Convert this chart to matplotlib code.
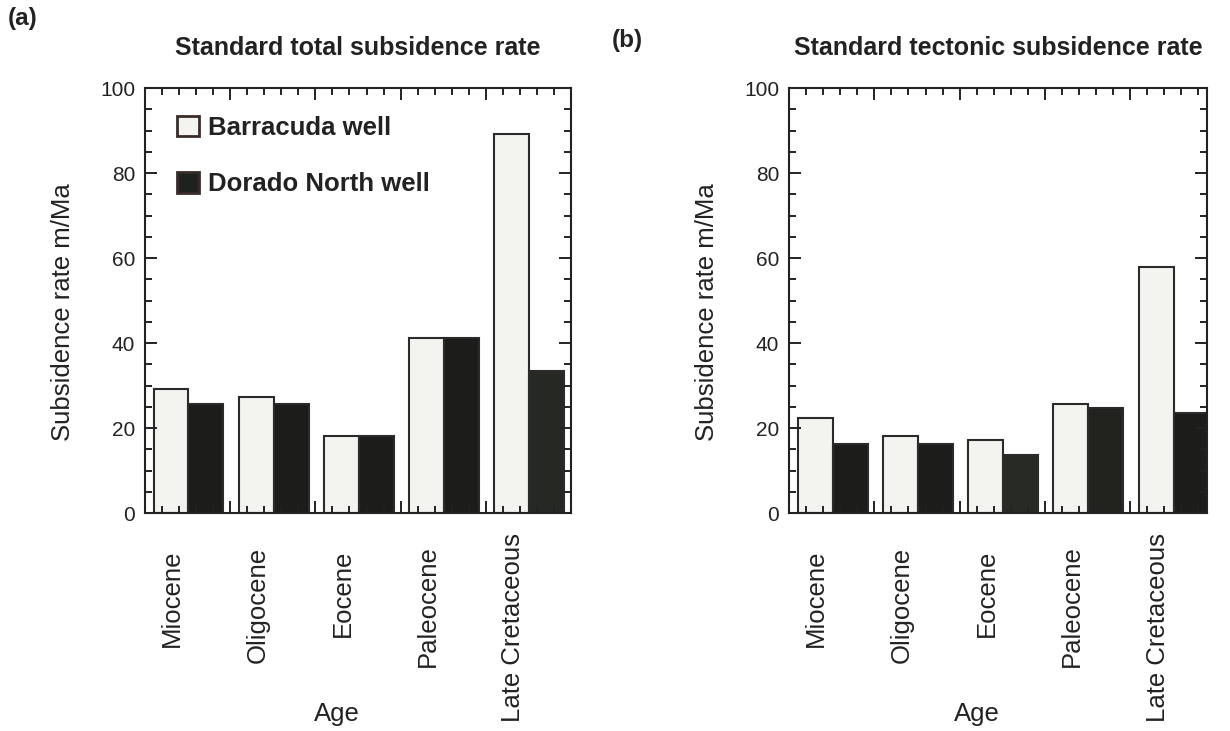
import numpy as np
import matplotlib
matplotlib.use('Agg')
import matplotlib.pyplot as plt
from matplotlib.patches import Patch
from matplotlib.ticker import MultipleLocator

plt.rcParams['font.family'] = ['Liberation Sans', 'DejaVu Sans']

# data (m/Ma)
ages = ['Miocene', 'Oligocene', 'Eocene', 'Paleocene', 'Late Cretaceous']
total_barracuda = [29.1, 27.4, 18.1, 41.1, 89.2]
total_dorado = [25.6, 25.6, 18.1, 41.1, 33.5]
tectonic_barracuda = [22.4, 18.2, 17.2, 25.6, 58.0]
tectonic_dorado = [16.2, 16.2, 13.6, 24.6, 23.5]
well_names = ['Barracuda well', 'Dorado North well']

# how far below the axis each age label starts (axes fraction)
label_drop = [0.087, 0.08, 0.087, 0.075, 0.047]

light = '#f3f3ef'
dark = '#1c1d1a'
edge = '#2b2b2b'
ink = '#222222'


def dibujarPanel(ax, barracuda, dorado, titulo, xmax, dark_colors):
    x = np.arange(len(ages))
    ax.bar(x + 0.1, barracuda, width=0.41, align='edge', color=light,
           edgecolor=edge, linewidth=1.5)
    ax.bar(x + 0.51, dorado, width=0.41, align='edge', color=dark_colors,
           edgecolor=edge, linewidth=1.5)

    ax.set_xlim(0, xmax)
    ax.set_ylim(0, 100)
    ax.set_axisbelow(False)

    ax.xaxis.set_major_locator(MultipleLocator(1))
    ax.xaxis.set_minor_locator(MultipleLocator(0.2))
    ax.yaxis.set_major_locator(MultipleLocator(20))
    ax.yaxis.set_minor_locator(MultipleLocator(5))
    ax.tick_params(which='both', direction='in', top=True, right=True,
                   color=ink, width=1.4)
    ax.tick_params(which='major', length=8.5)
    ax.tick_params(which='minor', length=5)
    ax.tick_params(axis='x', labelbottom=False)
    ax.tick_params(axis='y', labelsize=15, pad=7, labelcolor=ink)
    for s in ax.spines.values():
        s.set_linewidth(1.5)
        s.set_color(ink)

    for i, a in enumerate(ages):
        ax.text(i + 0.32, -label_drop[i], a, transform=ax.get_xaxis_transform(),
                rotation=90, ha='center', va='top', fontsize=18.5, color=ink)
    ax.text(0.45, -0.49, 'Age', transform=ax.transAxes, ha='center',
            va='baseline', fontsize=18.5, color=ink)
    ax.set_ylabel('Subsidence rate m/Ma', fontsize=18.5, color=ink)
    ax.set_title(titulo, fontsize=18, fontweight='bold', pad=24, color=ink)


fig = plt.figure(figsize=(12.3, 7.31), dpi=100)
ax1 = fig.add_axes([0.1179, 0.2982, 0.3463, 0.5814])
ax2 = fig.add_axes([0.6415, 0.2982, 0.3398, 0.5814])

dibujarPanel(ax1, total_barracuda, total_dorado,
             'Standard total subsidence rate', 5.0,
             [dark, dark, dark, dark, '#262824'])
dibujarPanel(ax2, tectonic_barracuda, tectonic_dorado,
             'Standard tectonic subsidence rate', 4.9,
             [dark, dark, '#282a24', '#22231f', dark])
ax1.yaxis.set_label_coords(-0.164, 0.473)
ax2.yaxis.set_label_coords(-0.167, 0.473)

handles = [Patch(facecolor=light, edgecolor='#3b2b28', linewidth=2),
           Patch(facecolor='#1e221e', edgecolor='#3b2b28', linewidth=2)]
ax1.legend(handles, well_names, loc='upper left', bbox_to_anchor=(0.075, 0.935),
           frameon=False, prop=dict(weight='bold', size=18.5),
           handlelength=0.86, handleheight=0.86, handletextpad=0.35,
           labelspacing=1.25, borderpad=0, borderaxespad=0, labelcolor=ink)

fig.text(0.0065, 0.975, '(a)', fontsize=17.5, fontweight='bold', va='center', color=ink)
fig.text(0.4976, 0.945, '(b)', fontsize=17.5, fontweight='bold', va='center', color=ink)

fig.savefig('out.png', dpi=100)
